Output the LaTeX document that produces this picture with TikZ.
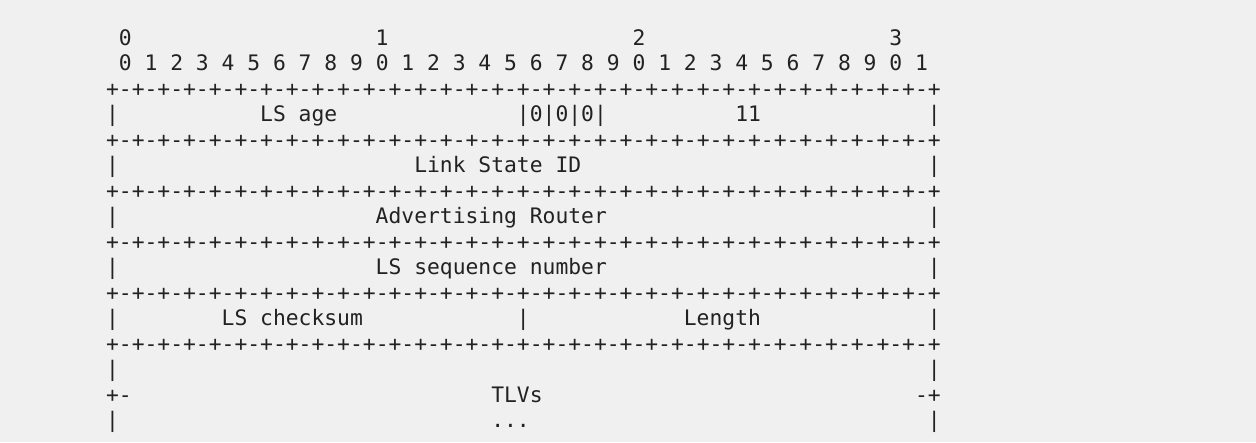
\documentclass[tikz,border=0pt]{standalone}
\usepackage{fontspec}
\setmonofont{DejaVu Sans Mono}
\definecolor{bgcol}{HTML}{F0F0F0}
\definecolor{txtcol}{HTML}{222222}
\newcommand{\ruler}{+-+-+-+-+-+-+-+-+-+-+-+-+-+-+-+-+-+-+-+-+-+-+-+-+-+-+-+-+-+-+-+-+}
\tikzset{
  cell/.style={anchor=base west, inner sep=0pt, text=txtcol,
    font=\fontsize{21.33}{25.5}\selectfont\ttfamily}
}
\begin{document}
\begin{tikzpicture}[x=12.84pt,y=-25.5pt]
   \fill[color=bgcol] (-105.9pt,19.5pt) rectangle (1150.1pt,-422.5pt);
   \foreach \d in {0,...,3}
     \node[cell] (tens\d) at (1+20*\d,1) {\d};
   \node[cell] (units) at (1,2) {0 1 2 3 4 5 6 7 8 9 0 1 2 3 4 5 6 7 8 9 0 1 2 3 4 5 6 7 8 9 0 1};
   \foreach \r in {3,5,...,13}
     \node[cell] (rule\r) at (0,\r) {\ruler};
   \foreach \r in {4,6,...,16}
     \node[cell] (left\r) at (0,\r) {|} (64,\r) node[cell] (right\r) {|};
   \node[cell] (age) at (12,4) {LS age};
   \node[cell] (opts) at (32,4) {|0|0|0|};
   \node[cell] (type) at (49,4) {11};
   \node[cell] (lsid) at (24,6) {Link State ID};
   \node[cell] (advrtr) at (21,8) {Advertising Router};
   \node[cell] (seqnum) at (21,10) {LS sequence number};
   \node[cell] (cksum) at (9,12) {LS checksum};
   \node[cell] (midbar) at (32,12) {|};
   \node[cell] (length) at (45,12) {Length};
   \node[cell] (tlvleft) at (0,15) {+-};
   \node[cell] (tlvs) at (30,15) {TLVs};
   \node[cell] (tlvright) at (63,15) {-+};
   \node[cell] (dots) at (30,16) {...};

    \end{tikzpicture}
\end{document}
